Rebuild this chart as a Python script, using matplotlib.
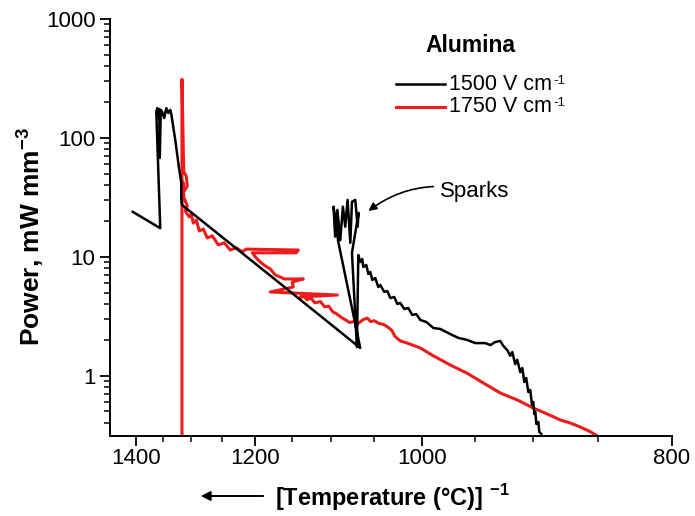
import matplotlib
matplotlib.use("Agg")
import matplotlib.pyplot as plt
from matplotlib.lines import Line2D
from matplotlib.patches import FancyArrowPatch
from matplotlib.ticker import FixedLocator, FixedFormatter, LogLocator, NullFormatter
import numpy as np

plt.rcParams['font.family'] = ['Liberation Sans', 'DejaVu Sans']
plt.rcParams['mathtext.fontset'] = 'custom'
plt.rcParams['mathtext.rm'] = 'Liberation Sans'
plt.rcParams['mathtext.bf'] = 'Liberation Sans:bold'

# ---- data: temperature (°C) and power density (mW mm^-3) ----
black_T = [1407, 1354.5, 1361.8, 1360.0, 1358.1, 1356.3, 1355.4, 1353.6, 1350.9, 1347.3,
           1343.5, 1339.9, 1336.4, 1334.6, 1327.5, 1321.2, 1316.9, 1317.0, 1315.8,
           1174.7, 1065.8,
           1091.3, 1097.0, 1095.1, 1092.4, 1089.0, 1085.9, 1083.1, 1080.4, 1077.2,
           1075.3, 1071.5, 1068.8, 1067.7, 1075.3, 1069.6,
           1068.0, 1065.8, 1063.5, 1062.4, 1059.0, 1056.7, 1054.5, 1052.3, 1049.0,
           1045.7, 1043.5, 1039.2, 1036.0, 1032.7, 1028.5, 1025.3, 1022.2, 1018.0,
           1013.9, 1009.8, 1005.7, 1001.7, 995.7, 988.8, 982.0, 972.5, 965.0, 956.9,
           949.4, 940.5, 936.1, 931.7, 927.4, 924.8, 921.4, 918.9, 917.2, 914.7,
           913.0, 910.5, 908.8, 907.2, 905.6, 903.9, 902.3, 900.9, 899.9, 899.0,
           898.2, 897.4, 895.8, 895.0, 893.4]
black_P = [23.9, 17.4, 165, 178, 147, 175, 67.8, 172, 165, 147,
           178, 162, 172, 159, 96, 56.9, 41.8, 31.8, 27.3,
           6.63, 1.71,
           13.3, 26.4, 14.8, 24.8, 13.8, 26.4, 17.9, 30.1, 13.1,
           29.0, 30.1, 17.9, 23.4, 10.8, 1.74,
           10.35, 9.04, 9.58, 8.21, 8.53, 7.17, 7.45, 6.38, 6.63,
           5.57, 5.79, 5.06, 5.16, 4.50, 4.59, 4.01, 4.09, 3.64,
           3.71, 3.24, 3.30, 2.94, 2.83, 2.52, 2.47, 2.24, 2.08, 2.00,
           1.88, 1.88, 1.81, 1.92, 1.96, 1.78, 1.64, 1.47, 1.58, 1.25,
           1.36, 1.07, 1.16, 0.885, 0.956, 0.729, 0.758, 0.567, 0.601, 0.476,
           0.495, 0.393, 0.408, 0.336, 0.324]

red_T = [1315.8, 1315.8, 1313.5, 1312.7, 1308.4, 1306.7, 1311.8, 1314.4, 1312.7,
         1306.7, 1310.1, 1303.3, 1299.9, 1296.5, 1291.5, 1286.5, 1279.9, 1273.4,
         1265.3, 1255.8, 1246.4, 1237.2, 1228.0, 1219.1, 1213.2, 1141.2, 1143.8,
         1204.4, 1198.6, 1192.9, 1185.8, 1178.8, 1171.9, 1165.1, 1159.7, 1134.7,
         1149.0, 1147.7, 1178.8, 1092.5, 1138.6,
         1134.0, 1130.0, 1125.0, 1120.0, 1113.0, 1108.0, 1103.0, 1098.0, 1093.0,
         1088.0, 1083.0, 1078.0, 1073.0, 1068.0, 1063.0, 1058.0, 1054.0, 1050.0,
         1045.0, 1040.0, 1035.0, 1031.0, 1028.0,
         1022.2, 1014.9, 1001.7, 988.8, 972.5, 956.9, 942.2, 927.4, 913.0, 899.9,
         888.6, 878.5, 870.9, 863.3, 855.9, 850.9]
red_P = [0.2, 311, 79.1, 51.7, 47.8, 39.4, 35.8, 42.6, 31.8,
         26.8, 24.3, 21.6, 22.9, 19.2, 20.4, 16.5, 17.1, 14.4,
         15.0, 12.6, 13.1, 11.4, 11.9, 11.0, 11.6, 11.4, 10.8,
         10.8, 9.77, 9.04, 8.37, 7.90, 7.03, 6.76, 6.51, 6.51,
         6.14, 5.57, 5.06, 4.77, 4.59,
         4.70, 4.35, 4.50, 4.10, 4.20, 3.80, 3.85, 3.45, 3.30,
         3.10, 2.95, 2.80, 2.85, 2.75, 2.95, 3.05, 2.85, 2.90,
         2.75, 2.70, 2.55, 2.40, 2.15,
         1.96, 1.88, 1.71, 1.47, 1.23, 1.05, 0.868, 0.715, 0.625, 0.535,
         0.476, 0.424, 0.40, 0.37, 0.338, 0.311]

legend_title = 'Alumina'
series_labels = ['1500 V cm', '1750 V cm']
unit_exponent = '-1'
series_colors = ['#000000', '#ec1c1c']

x_major_T = [1400, 1200, 1000, 800]
x_minor_T = [1350, 1300, 1250, 1150, 1100, 1050, 950, 900, 850]
y_major = [1, 10, 100, 1000]
y_major_labels = ['1', '10', '100', '1000']

# ---- figure ----
W, H = 695, 516
fig = plt.figure(figsize=(W / 100, H / 100), dpi=100)
ax = fig.add_axes([109.5 / W, 80 / H, (672 - 109.5) / W, (436 - 19) / H])


def inv(t):
    return 1.0 / np.asarray(t, dtype=float)


def fx(px):
    return px / W


def fy(py):
    return 1 - py / H


ax.plot(inv(black_T), black_P, color=series_colors[0], lw=1.8, zorder=3)
ax.plot(inv(red_T), red_P, color=series_colors[1], lw=2.2, zorder=2)

ax.set_yscale('log')
ax.set_ylim(0.311, 1000)
ax.set_xlim(1 / 1454.5, 1 / 800)

ax.xaxis.set_major_locator(FixedLocator(inv(x_major_T)))
ax.xaxis.set_major_formatter(FixedFormatter([str(t) for t in x_major_T]))
ax.xaxis.set_minor_locator(FixedLocator(inv(x_minor_T)))
ax.yaxis.set_major_locator(FixedLocator(y_major))
ax.yaxis.set_major_formatter(FixedFormatter(y_major_labels))
ax.yaxis.set_minor_locator(LogLocator(base=10, subs=np.arange(2, 10)))
ax.yaxis.set_minor_formatter(NullFormatter())

for s in ['top', 'right']:
    ax.spines[s].set_visible(False)
for s in ['left', 'bottom']:
    ax.spines[s].set_linewidth(1.4)

ax.tick_params(which='major', direction='out', length=7, width=1.3, labelsize=16,
               colors='black')
ax.tick_params(axis='x', which='major', pad=2)
ax.tick_params(axis='y', which='major', pad=3)
ax.tick_params(which='minor', direction='out', length=4, width=1.1)

# legend block drawn in figure pixel coordinates
renderer = fig.canvas.get_renderer()
fig.text(fx(470), fy(45), legend_title, ha='center', va='center',
         fontsize=16.5, fontweight='bold')
for row_y, lab, col, lw in zip([84, 107], series_labels, series_colors, [1.8, 2.2]):
    fig.add_artist(Line2D([fx(396), fx(445)], [fy(row_y), fy(row_y)], color=col, lw=lw,
                          transform=fig.transFigure))
    t = fig.text(fx(449), fy(row_y), lab, ha='left', va='center', fontsize=15.5)
    bb = t.get_window_extent(renderer)
    fig.text((bb.x1 + 1) / W, (bb.y1 - 1) / H, unit_exponent, ha='left', va='top',
             fontsize=9.5)

# annotation
ax.annotate('Sparks', xy=(1 / 1056.7, 24.3), xytext=(1 / 982.0, 35.1),
            fontsize=16, ha='left', va='center',
            arrowprops=dict(arrowstyle='-|>', color='black', lw=1.2,
                            connectionstyle='arc3,rad=0.25', shrinkA=3, shrinkB=0,
                            mutation_scale=12))

# axis titles
fig.text(fx(30), fy(236), r'Power, mW mm$^{\mathbf{-3}}$', rotation=90,
         ha='center', va='center', fontsize=19, fontweight='bold')
fig.text(fx(275), fy(498), r'[Temperature (°C)] $^{\mathbf{-1}}$',
         ha='left', va='center', fontsize=17, fontweight='bold')
fig.add_artist(FancyArrowPatch((fx(266), fy(496)), (fx(198), fy(496)),
                               transform=fig.transFigure, arrowstyle='-|>',
                               mutation_scale=14, lw=1.4, color='black'))

fig.savefig('out.png', dpi=100, facecolor='white')
